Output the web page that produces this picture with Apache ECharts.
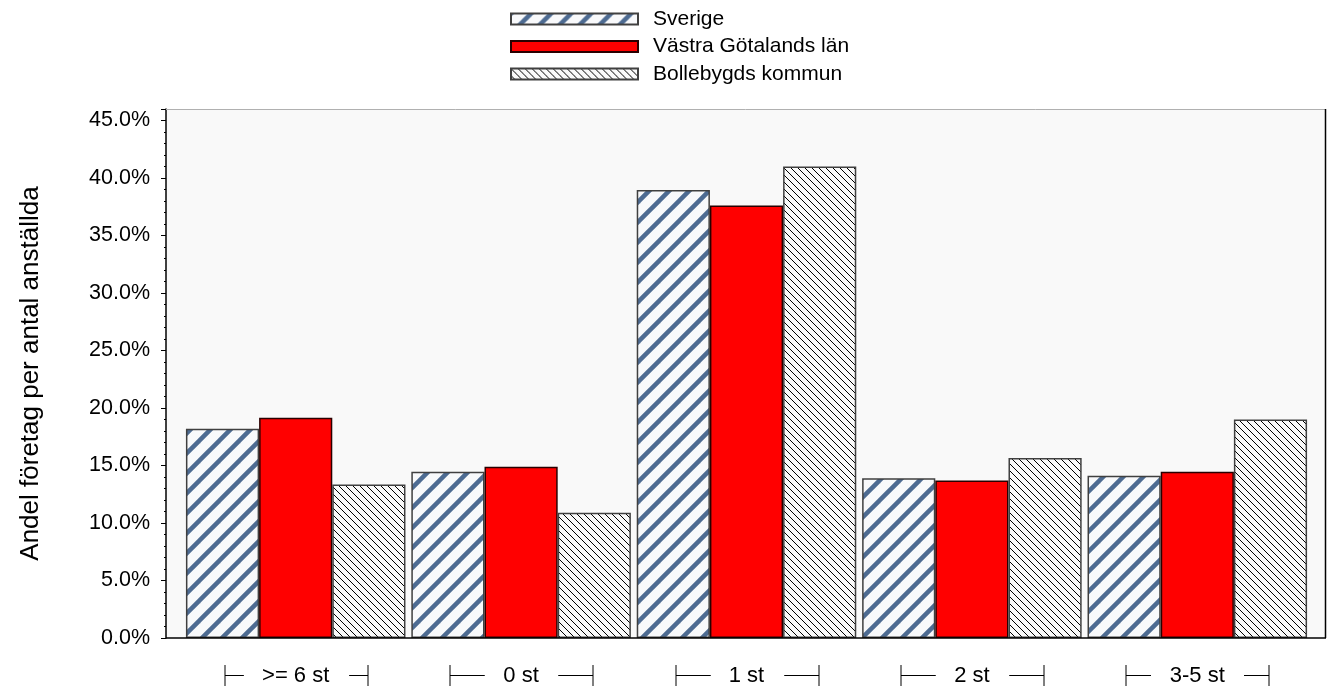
<!DOCTYPE html>
<html>
<head>
<meta charset="utf-8">
<script src="https://cdn.jsdelivr.net/npm/echarts@6/dist/echarts.min.js"></script>
<style>html,body{margin:0;padding:0;background:#fff}#c{width:1330px;height:691px}</style>
</head>
<body>
<div id="c"></div>
<script>
const categories = ['>= 6 st', '0 st', '1 st', '2 st', '3-5 st'];
const seriesNames = ['Sverige', 'Västra Götalands län', 'Bollebygds kommun'];
const sverige = [18.2, 14.45, 38.95, 13.9, 14.1];
const vastra = [19.15, 14.9, 37.6, 13.7, 14.45];
const bolle = [13.35, 10.9, 41.0, 15.65, 19.0];
const yTicks = [0, 5, 10, 15, 20, 25, 30, 35, 40, 45];

const FONT = '"Liberation Sans", Arial, sans-serif';
const L = 166, R = 1325, T = 109, B = 638;

function makeTile(size, draw) {
  const c = document.createElement('canvas');
  c.width = size; c.height = size;
  const g = c.getContext('2d');
  draw(g, size);
  return c;
}
const sverigeTile = makeTile(20, (g, s) => {
  g.fillStyle = '#f8f9fb'; g.fillRect(0, 0, s, s);
  g.strokeStyle = '#4d6b92'; g.lineWidth = 4.5;
  [-s, 0, s].forEach(dx => {
    g.beginPath(); g.moveTo(dx - 2, s + 2); g.lineTo(dx + s + 2, -2); g.stroke();
  });
});
const bolleTile = makeTile(7, (g, s) => {
  g.fillStyle = '#fafafa'; g.fillRect(0, 0, s, s);
  g.strokeStyle = '#000000'; g.lineWidth = 1;
  [-s, 0, s].forEach(dx => {
    g.beginPath(); g.moveTo(dx - 1, -1); g.lineTo(dx + s + 1, s + 1); g.stroke();
  });
});

const mctx = document.createElement('canvas').getContext('2d');
mctx.font = '22px ' + FONT;
const textWidths = categories.map(c => mctx.measureText(c).width);

function renderBracket(params, api) {
  const idx = api.value(0);
  const p = api.coord([idx, 0]);
  const cx = Math.round(p[0]) + 0.5, y0 = Math.round(p[1]);
  const tw = textWidths[idx];
  const half = 71.5, gap = 19;
  const yTop = y0 + 27, yBot = y0 + 48, yMid = y0 + 37.5;
  const st = { stroke: '#000', lineWidth: 1 };
  return {
    type: 'group',
    children: [
      { type: 'line', shape: { x1: cx - half, y1: yTop, x2: cx - half, y2: yBot }, style: st },
      { type: 'line', shape: { x1: cx - half, y1: yMid, x2: cx - tw / 2 - gap, y2: yMid }, style: st },
      { type: 'line', shape: { x1: cx + tw / 2 + gap, y1: yMid, x2: cx + half, y2: yMid }, style: st },
      { type: 'line', shape: { x1: cx + half, y1: yTop, x2: cx + half, y2: yBot }, style: st }
    ]
  };
}

const chart = echarts.init(document.getElementById('c'), null, { renderer: 'canvas' });
chart.setOption({
  animation: false,
  backgroundColor: '#ffffff',
  textStyle: { fontFamily: FONT },
  graphic: [
    { type: 'rect', z: -10, silent: true, shape: { x: L, y: T, width: R - L, height: B - T }, style: { fill: '#f9f9f9' } },
    { type: 'line', z: 100, silent: true, shape: { x1: L, y1: T + 0.5, x2: R, y2: T + 0.5 }, style: { stroke: '#b0b0b0', lineWidth: 1 } },
    { type: 'line', z: 100, silent: true, shape: { x1: R + 0.5, y1: T, x2: R + 0.5, y2: B }, style: { stroke: '#000', lineWidth: 1.5 } },
    { type: 'line', z: 100, silent: true, shape: { x1: L, y1: B, x2: R + 1, y2: B }, style: { stroke: '#000', lineWidth: 1.5 } }
  ],
  legend: {
    data: seriesNames,
    orient: 'vertical',
    left: 505,
    top: 3,
    itemWidth: 127,
    itemHeight: 11,
    itemGap: 5.5,
    icon: 'rect',
    selectedMode: false,
    textStyle: { fontSize: 21, fontFamily: FONT, color: '#000', lineHeight: 22, padding: [0, 0, 0, 10] }
  },
  grid: { left: 183, right: 20, top: T, bottom: 691 - B, containLabel: false },
  xAxis: {
    type: 'category',
    data: categories,
    axisLine: { show: false },
    axisTick: { show: false },
    axisLabel: { fontSize: 22, fontFamily: FONT, color: '#000', margin: 27 },
    splitLine: { show: false }
  },
  yAxis: {
    type: 'value',
    min: 0,
    max: 46,
    interval: 5,
    offset: 17,
    name: 'Andel företag per antal anställda',
    nameLocation: 'middle',
    nameGap: 122,
    nameTextStyle: { fontSize: 26, fontFamily: FONT, color: '#000' },
    axisLine: { show: true, lineStyle: { color: '#000', width: 1.5 } },
    axisTick: { show: true, length: 5, lineStyle: { color: '#000' } },
    minorTick: { show: true, splitNumber: 5, length: 2, lineStyle: { color: '#000' } },
    axisLabel: {
      fontSize: 21.5, fontFamily: FONT, color: '#000', margin: 16, showMaxLabel: false,
      formatter: v => (yTicks.indexOf(v) >= 0 ? v.toFixed(1) + '%' : '')
    },
    splitLine: { show: false }
  },
  series: [
    {
      name: seriesNames[0], type: 'bar', data: sverige,
      barGap: '0%', barCategoryGap: '2.6%',
      itemStyle: { color: { image: sverigeTile, repeat: 'repeat' }, borderColor: '#404040', borderWidth: 1.5 }
    },
    {
      name: seriesNames[1], type: 'bar', data: vastra,
      barGap: '0%', barCategoryGap: '2.6%',
      itemStyle: { color: '#ff0000', borderColor: '#2a0000', borderWidth: 1.5 }
    },
    {
      name: seriesNames[2], type: 'bar', data: bolle,
      barGap: '0%', barCategoryGap: '2.6%',
      itemStyle: { color: { image: bolleTile, repeat: 'repeat' }, borderColor: '#404040', borderWidth: 1.5 }
    },
    {
      type: 'custom', silent: true, clip: false,
      renderItem: renderBracket,
      data: categories.map((c, i) => [i, 0]),
      encode: { x: 0, y: 1 },
      z: 10
    }
  ]
});
</script>
</body>
</html>
